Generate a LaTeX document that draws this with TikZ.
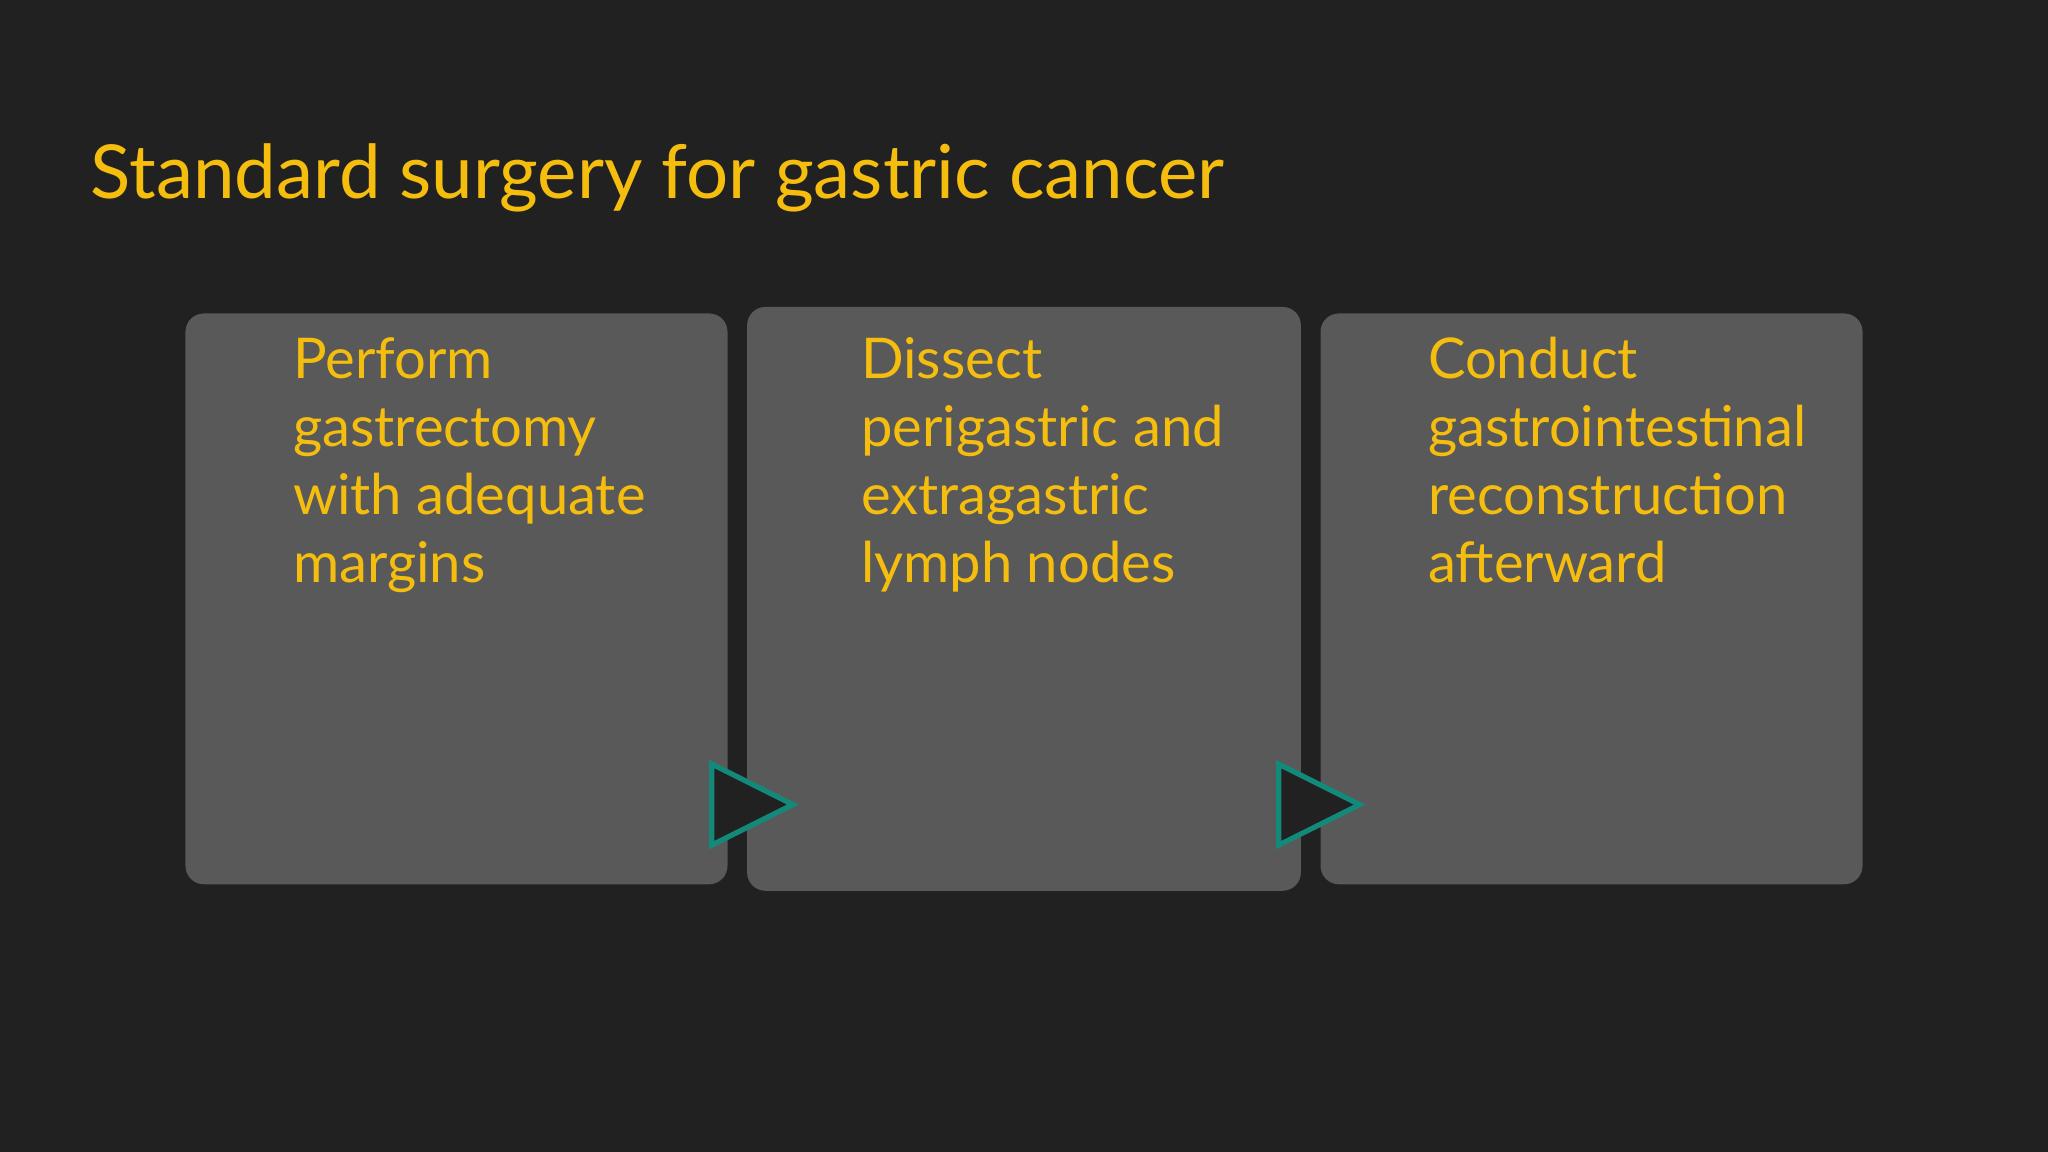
\documentclass[tikz,border=0pt]{standalone}
\usepackage{fontspec}
\setmainfont{Lato}
\definecolor{bg}{HTML}{212121}
\definecolor{boxc}{HTML}{595959}
\definecolor{gold}{HTML}{F5BE0F}
\definecolor{teal}{HTML}{13897A}
\begin{document}
\begin{tikzpicture}[x=0.5pt,y=-0.5pt,
  card/.style={fill=boxc,rounded corners=7pt},
  lbl/.style={anchor=north west,align=left,text=gold,inner sep=0pt,font=\fontsize{21.5}{26}\selectfont},
  tri/.style={fill=bg,draw=teal,line width=2pt,line join=miter}]
\fill[bg] (0,0) rectangle (1568,882);
\useasboundingbox (0,0) rectangle (1568,882);
\node[anchor=base west,inner sep=0pt,text=gold,font=\fontsize{28.5}{34}\selectfont] (title) at (69,152) {Standard surgery for gastric cancer};
\fill[card] (142,240) rectangle (557,677);
\fill[card] (572,235) rectangle (996,682);
\fill[card] (1011,240) rectangle (1426,677);
\node[lbl] (t1) at (224,258) {Perform\\gastrectomy\\with adequate\\margins};
\node[lbl] (t2) at (659,258) {Dissect\\perigastric and\\extragastric\\lymph nodes};
\node[lbl] (t3) at (1093,258) {Conduct\\gastrointestinal\\reconstruction\\afterward};
\draw[tri] (545,585) -- (607,616) -- (545,647) -- cycle;
\draw[tri] (979,585) -- (1041,616) -- (979,647) -- cycle;
\end{tikzpicture}
\end{document}
